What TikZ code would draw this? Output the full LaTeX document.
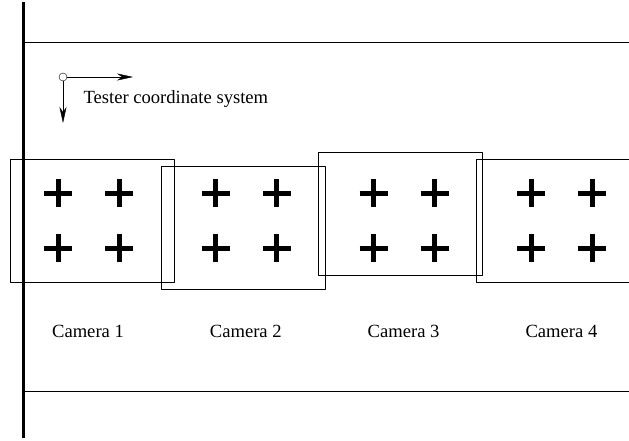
\documentclass[tikz,border=0pt]{standalone}
\usepackage{fontspec}
\setmainfont{Liberation Serif}
\usetikzlibrary{arrows.meta}

\tikzset{
  camframe/.style={draw, thin, minimum width=164pt, minimum height=123pt, inner sep=0pt},
  mark cross/.style={line width=5pt},
}

\begin{document}
\begin{tikzpicture}[x=1pt, y=-1pt, font=\fontsize{18.6}{22}\selectfont, line join=round, >={Stealth[length=16pt, width=7pt, inset=5pt]}]
	\useasboundingbox (0,0) rectangle (629,441);
	\clip (0,0) rectangle (629,441);
	% frame of the tester
	\draw[line width=3pt] (23,2) -- (23,438);
	\draw (23,42) -- (629,42);
	\draw (23,391) -- (629,391);
	% tester coordinate system
	\node[circle, draw, inner sep=0pt, minimum size=8pt] (org) at (63,77) {};
	\coordinate (xend) at (133,77);
	\coordinate (yend) at (63,123);
	\draw[->] (org.east) -- (xend);
	\draw[->] (org.south) -- (yend);
	\node[anchor=base west] (tcs) at (80,104) {Tester coordinate system};
	% cameras
	\foreach \i/\fx/\fy in {1/92/220.5, 2/243/227.5, 3/400.5/213.5, 4/558/220.5} {
		\node[camframe] (cam\i) at (\fx,\fy) {};
		\node[anchor=base] (lab\i) at ({88+(\i-1)*157.8},337.7) {Camera \i};
		\foreach \dx in {0,61} {
			\foreach \cy in {193,248} {
				\draw[mark cross] ({58+(\i-1)*157.8+\dx-14},\cy) -- ++(28,0)
					({58+(\i-1)*157.8+\dx},\cy-14) -- ++(0,28);
			}
		}
	}
\end{tikzpicture}
\end{document}
